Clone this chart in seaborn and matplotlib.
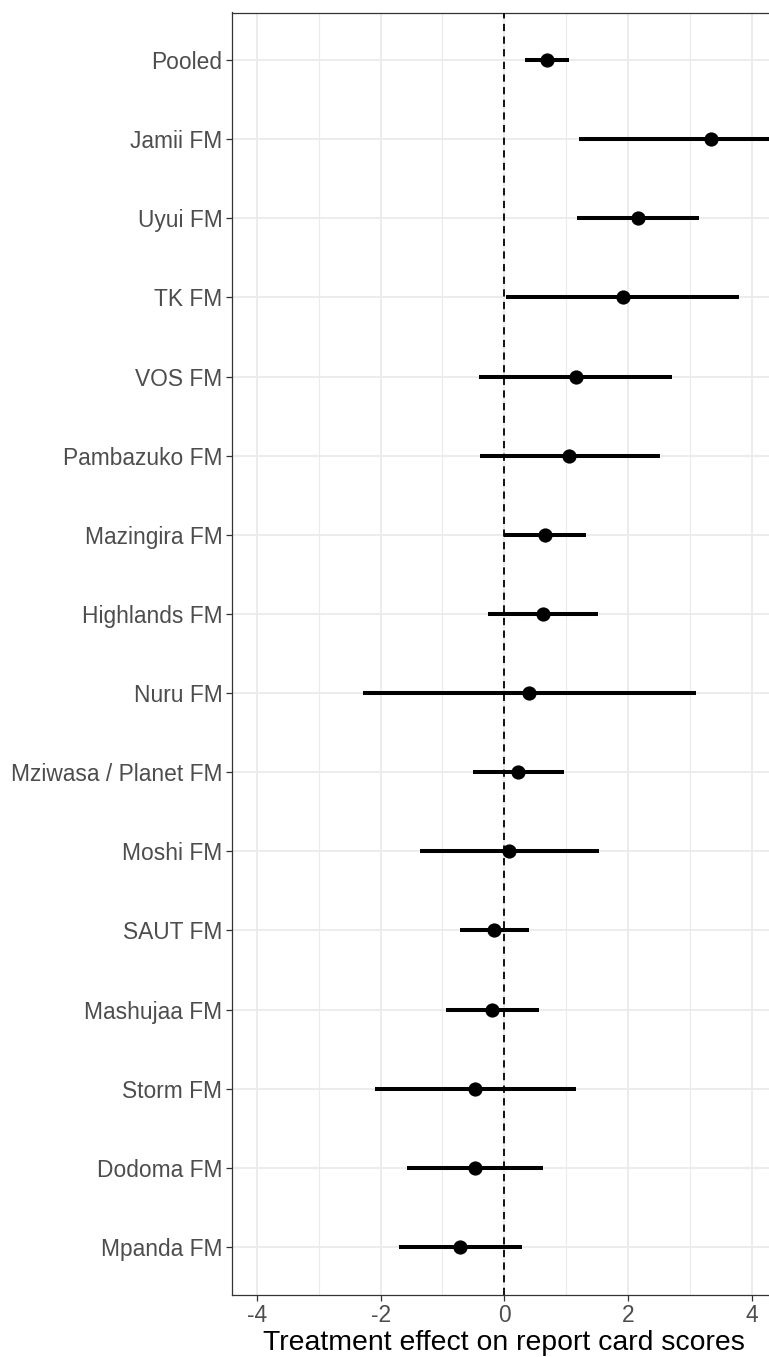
import numpy as np
import pandas as pd
import matplotlib
matplotlib.use("Agg")
import matplotlib.pyplot as plt
import seaborn as sns

stations = ["Pooled", "Jamii FM", "Uyui FM", "TK FM", "VOS FM", "Pambazuko FM",
            "Mazingira FM", "Highlands FM", "Nuru FM", "Mziwasa / Planet FM",
            "Moshi FM", "SAUT FM", "Mashujaa FM", "Storm FM", "Dodoma FM", "Mpanda FM"]
estimate = [0.69, 3.33, 2.16, 1.91, 1.15, 1.05, 0.66, 0.62, 0.40, 0.22,
            0.08, -0.16, -0.20, -0.47, -0.48, -0.72]
ci_low = [0.34, 1.20, 1.17, 0.03, -0.41, -0.39, 0.00, -0.26, -2.29, -0.51,
          -1.36, -0.72, -0.95, -2.09, -1.58, -1.71]
ci_high = [1.04, 5.00, 3.15, 3.79, 2.70, 2.51, 1.32, 1.51, 3.10, 0.96,
           1.53, 0.40, 0.56, 1.16, 0.62, 0.28]
x_ticks = [-4, -2, 0, 2, 4]

df = pd.DataFrame({"station": stations, "est": estimate, "lo": ci_low, "hi": ci_high})

sns.set_theme(style="white")
plt.rcParams["font.family"] = ["Liberation Sans", "DejaVu Sans"]
plt.rcParams["axes.unicode_minus"] = False

fig = plt.figure(figsize=(7.69, 13.57), dpi=100)
ax = fig.add_axes([232 / 769, 1 - 1294.5 / 1357, (776.8 - 232) / 769, (1294.5 - 12.5) / 1357])

ax.set_axisbelow(True)
ax.set_xticks(x_ticks)
ax.set_xticks([-3, -1, 1, 3], minor=True)
ax.grid(True, which="major", axis="both", color="#EBEBEB", linewidth=1.3)
ax.grid(True, which="minor", axis="x", color="#EBEBEB", linewidth=0.8)

ax.hlines(df["station"], df["lo"], df["hi"], color="black", linewidth=2.9, zorder=3)
sns.scatterplot(data=df, x="est", y="station", ax=ax, color="black", s=105,
                edgecolor="black", linewidth=0, zorder=4)
ax.axvline(0, color="black", linestyle=(0, (4, 3)), linewidth=1.3, zorder=5)

ax.set_xlim(-4.4, 4.4)
ax.set_ylim(len(stations) - 0.4, -0.6)

for s in ax.spines.values():
    s.set_color("#333333")
    s.set_linewidth(0.9)

ax.tick_params(axis="both", which="major", length=4, width=0.9, color="#333333",
               labelsize=16.4, labelcolor="#4D4D4D", pad=3, left=True, bottom=True)
ax.tick_params(axis="x", which="minor", length=0)
ax.set_ylabel("")
ax.set_xlabel("Treatment effect on report card scores", fontsize=20.4, color="black", labelpad=2)

fig.savefig("out.png", dpi=100)
